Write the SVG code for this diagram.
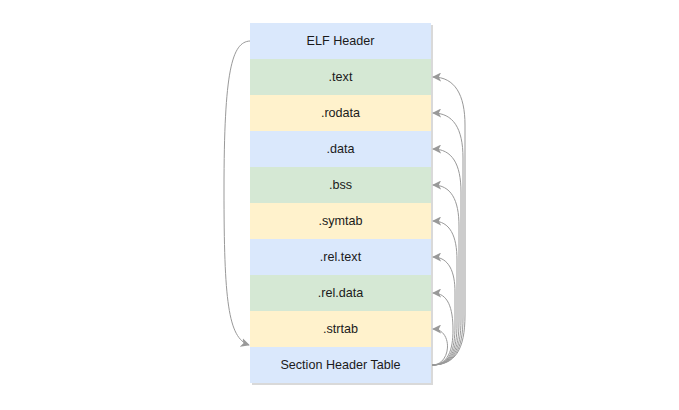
<svg xmlns="http://www.w3.org/2000/svg" width="679" height="410" viewBox="0 0 679 410">
<style>
.b{fill:#dae8fc}.g{fill:#d5e8d4}.y{fill:#fff2cc}
text{font-family:"Liberation Sans",Arial,sans-serif;font-size:12.6px;fill:#1a1a1a;text-anchor:middle;dominant-baseline:central}
.e{fill:none;stroke:#999;stroke-width:1}
</style>
<defs>
<marker id="ah" viewBox="0 0 10 10" refX="9" refY="5" markerWidth="9" markerHeight="9" markerUnits="userSpaceOnUse" orient="auto">
<path d="M10 5 L0 0 L2.5 5 L0 10 Z" fill="#999"/>
</marker>
</defs>
<rect x="252" y="25" width="181" height="360" fill="#000" opacity="0.15"/>
<g id="elf-header"><rect class="b" x="250" y="23" width="181" height="36"/><text x="340.5" y="41">ELF Header</text></g>
<g id="text"><rect class="g" x="250" y="59" width="181" height="36"/><text x="340.5" y="77">.text</text></g>
<g id="rodata"><rect class="y" x="250" y="95" width="181" height="36"/><text x="340.5" y="113">.rodata</text></g>
<g id="data"><rect class="b" x="250" y="131" width="181" height="36"/><text x="340.5" y="149">.data</text></g>
<g id="bss"><rect class="g" x="250" y="167" width="181" height="36"/><text x="340.5" y="185">.bss</text></g>
<g id="symtab"><rect class="y" x="250" y="203" width="181" height="36"/><text x="340.5" y="221">.symtab</text></g>
<g id="rel-text"><rect class="b" x="250" y="239" width="181" height="36"/><text x="340.5" y="257">.rel.text</text></g>
<g id="rel-data"><rect class="g" x="250" y="275" width="181" height="36"/><text x="340.5" y="293">.rel.data</text></g>
<g id="strtab"><rect class="y" x="250" y="311" width="181" height="36"/><text x="340.5" y="329">.strtab</text></g>
<g id="section-header-table"><rect class="b" x="250" y="347" width="181" height="36"/><text x="340.5" y="365">Section Header Table</text></g>
<g id="connectors">
<path class="e" d="M250 41 C232 42,224 70,224 190 C224 300,228 338,249 345" marker-end="url(#ah)"/>
<path class="e" d="M432 365 C455 365,465 350,465 315 L465 125 C465 95,455 77,433 77" marker-end="url(#ah)"/>
<path class="e" d="M432 365 C454 365,463 350,463 318 L463 158 C463 128,453 113,433 113" marker-end="url(#ah)"/>
<path class="e" d="M432 365 C453 365,461 350,461 320 L461 192 C461 164,452 149,433 149" marker-end="url(#ah)"/>
<path class="e" d="M432 365 C452 365,459 350,459 322 L459 226 C459 200,451 185,433 185" marker-end="url(#ah)"/>
<path class="e" d="M432 365 C451 365,457 350,457 324 L457 260 C457 236,450 221,433 221" marker-end="url(#ah)"/>
<path class="e" d="M432 365 C450 365,455 350,455 326 L455 292 C455 272,449 257,433 257" marker-end="url(#ah)"/>
<path class="e" d="M432 365 C448 365,453 350,453 330 C453 308,448 293,433 293" marker-end="url(#ah)"/>
<path class="e" d="M432 365 C452 365,453 329,433 329" marker-end="url(#ah)"/>
</g>
</svg>
